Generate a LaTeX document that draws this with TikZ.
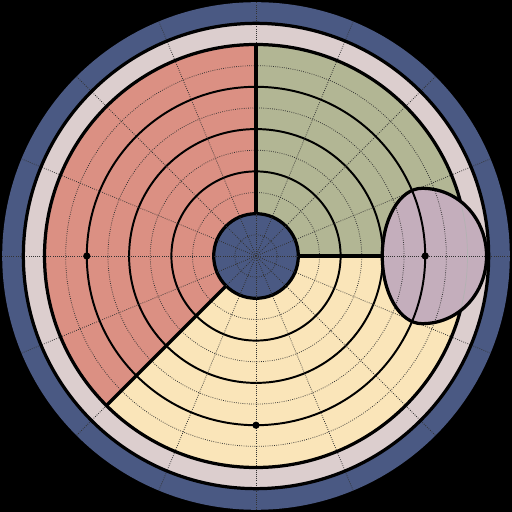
\documentclass[tikz,border=0pt]{standalone}
\definecolor{ringblue}{RGB}{74,89,131}
\definecolor{ringpink}{RGB}{220,206,206}
\definecolor{sectred}{RGB}{219,144,131}
\definecolor{sectgreen}{RGB}{178,182,148}
\definecolor{sectyellow}{RGB}{250,229,185}
\definecolor{eggpink}{RGB}{196,174,188}
\begin{document}
\begin{tikzpicture}[x=0.52875cm,y=0.52875cm,
  gridline/.style={densely dotted, line width=0.55pt, draw=black!80},
  thickline/.style={line width=2.3pt, draw=black},
  ringline/.style={line width=1.4pt, draw=black},
  faintline/.style={line width=0.5pt, draw=black!30}]
\useasboundingbox (-6.4cm,-6.4cm) rectangle (6.4cm,6.4cm);
\fill[black] (-6.4cm,-6.4cm) rectangle (6.4cm,6.4cm);
\fill[ringblue] (0,0) circle (12);
\fill[ringpink] (0,0) circle (11);
\fill[sectred] (0,0) -- (90:10) arc (90:225:10) -- cycle;
\fill[sectyellow] (0,0) -- (225:10) arc (225:360:10) -- cycle;
\fill[sectgreen] (0,0) -- (0:10) arc (0:90:10) -- cycle;
\foreach \r in {3,5,7,9} \draw[gridline] (0,0) circle (\r);
\foreach \r in {4,6,8} \draw[ringline] (0,0) circle (\r);
\foreach \a in {0,22.5,...,337.5} \draw[gridline] (0,0) -- (\a:12);
\draw[thickline] (0,0) circle (10);
\draw[thickline] (0,0) circle (11);
\draw[thickline] (90:2) -- (90:10);
\draw[thickline] (225:2) -- (225:10);
\draw[thickline] (0:2) -- (0:6.2);
% core
\filldraw[fill=ringblue, thickline] (0,0) circle (2);
\draw[gridline] (0,0) circle (1);
\foreach \a in {0,22.5,...,337.5} \draw[gridline] (0,0) -- (\a:2);
% egg-shaped region
\def\eggpath{(5.97,0) .. controls (5.97,1.77) and (6.81,3.2) .. (7.85,3.2) .. controls (9.6,3.2) and (10.9,1.75) .. (10.9,0) .. controls (10.9,-1.75) and (9.6,-3.2) .. (7.85,-3.2) .. controls (6.81,-3.2) and (5.97,-1.77) .. (5.97,0) -- cycle}
\fill[eggpink] \eggpath;
\begin{scope}
  \clip \eggpath;
  \draw[gridline] (0,0) circle (7);
  \draw[gridline] (0,0) circle (9);
  \draw[ringline] (0,0) circle (8);
  \draw[faintline] (0,0) circle (10);
  \draw[gridline] (5,0) -- (12,0);
\end{scope}
\draw[thickline] \eggpath;
% dots
\fill[black] (180:8) circle (0.17);
\fill[black] (270:8) circle (0.17);
\fill[black] (0:8) circle (0.17);
\end{tikzpicture}
\end{document}
